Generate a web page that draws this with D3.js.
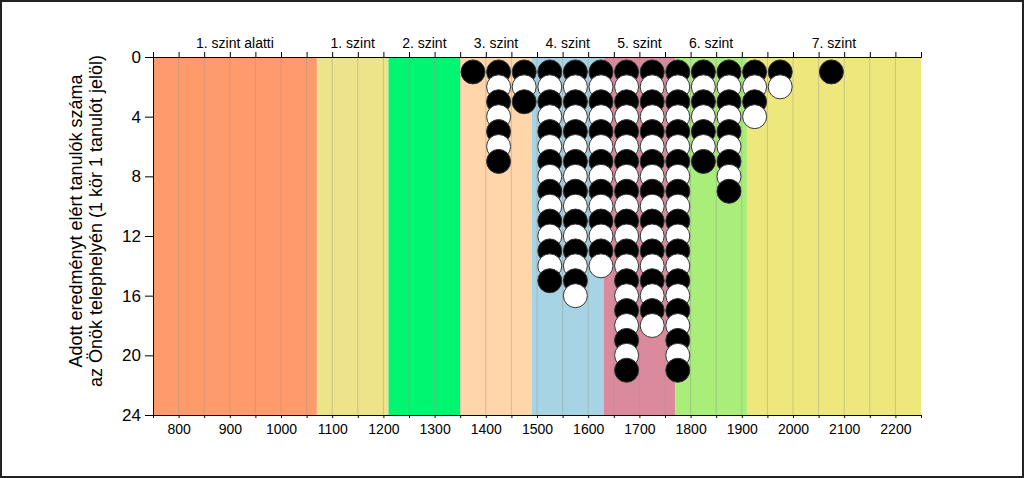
<!DOCTYPE html>
<html><head><meta charset="utf-8">
<script src="https://cdn.jsdelivr.net/npm/d3@7"></script>
<style>body{margin:0;background:#fff}svg{display:block;font-family:Arial,"Liberation Sans",sans-serif}</style>
</head><body>
<svg id="c" width="1024" height="478"></svg>
<script>
// Level bands
const bandNames = ["1. szint alatti","1. szint","2. szint","3. szint","4. szint","5. szint","6. szint","7. szint"];
const bandStarts = [750,1070,1210,1350,1490,1630,1770,1910];
const bandEnds   = [1070,1210,1350,1490,1630,1770,1910,2250];
const bandColors = ["#FF9A6A","#EDE388","#00F570","#FFD5AA","#A7D4E5","#DB8A9C","#A8EE78","#EEE87C"];
// Student counts per 50-point bin (bin centres)
const binCentres = [1375,1425,1475,1525,1575,1625,1675,1725,1775,1825,1875,1925,1975,2075];
const binCounts  = [1,7,3,15,16,14,21,18,21,7,9,4,2,1];
const yTicks = [0,4,8,12,16,20,24];
const xTicks = [800,900,1000,1100,1200,1300,1400,1500,1600,1700,1800,1900,2000,2100,2200];
const yTitle = ["Adott eredményt elért tanulók száma","az Önök telephelyén (1 kör 1 tanulót jelöl)"];

const svg = d3.select("#c");
const x = d3.scaleLinear().domain([750,2250]).range([153,921]);
const y = d3.scaleLinear().domain([0,24]).range([57,415]);

svg.append("rect").attr("x",1).attr("y",1).attr("width",1022).attr("height",476)
  .attr("fill","#fff").attr("stroke","#222").attr("stroke-width",2);

// bands
svg.append("g").selectAll("rect").data(bandNames).join("rect")
  .attr("x",(d,i)=>x(bandStarts[i])).attr("y",y(0))
  .attr("width",(d,i)=>x(bandEnds[i])-x(bandStarts[i])).attr("height",y(24)-y(0))
  .attr("fill",(d,i)=>bandColors[i]);

// grid lines
const grid = d3.range(800,2250,50);
svg.append("g").selectAll("line").data(grid).join("line")
  .attr("x1",d=>x(d)).attr("x2",d=>x(d)).attr("y1",y(0)).attr("y2",y(24))
  .attr("stroke","#9a9a9a").attr("stroke-opacity",0.45).attr("stroke-width",1);

// band labels
svg.append("g").selectAll("text").data(bandNames).join("text")
  .attr("x",(d,i)=>x((bandStarts[i]+bandEnds[i])/2)).attr("y",48)
  .attr("text-anchor","middle").attr("font-size",14).attr("fill","#000").text(d=>d);

// circles
const dots = [];
binCentres.forEach((c,i)=>{ for(let k=1;k<=binCounts[i];k++) dots.push({c,k}); });
svg.append("g").selectAll("circle").data(dots).join("circle")
  .attr("cx",d=>x(d.c)).attr("cy",d=>y(d.k)).attr("r",12)
  .attr("fill",d=>d.k%2===1?"#000":"#fff").attr("stroke","#333").attr("stroke-width",1);

// axes
const ticks50 = d3.range(750,2251,50);
const gTop = svg.append("g").attr("transform",`translate(0,${y(0)})`)
  .call(d3.axisTop(x).tickValues(ticks50).tickSize(5).tickFormat(""));
const gBot = svg.append("g").attr("transform",`translate(0,${y(24)})`)
  .call(d3.axisBottom(x).tickValues(ticks50).tickSize(3).tickFormat(d=>xTicks.includes(d)?d:""));
gBot.selectAll("text").attr("font-size",14).attr("font-family","Arial").attr("fill","#000").attr("dy","0.9em");
const gLeft = svg.append("g").attr("transform",`translate(${x(750)},0)`)
  .call(d3.axisLeft(y).tickValues(yTicks).tickSize(8).tickPadding(4));
gLeft.selectAll("text").attr("font-size",17).attr("font-family","Arial").attr("fill","#000");
[gTop,gBot,gLeft].forEach(g=>{g.select(".domain").attr("stroke","#000");g.selectAll("line").attr("stroke","#000");});

// y title
const tt = svg.append("text").attr("transform","translate(82,221) rotate(-90)")
  .attr("text-anchor","middle").attr("font-size",18).attr("fill","#000");
tt.selectAll("tspan").data(yTitle).join("tspan").attr("x",0).attr("dy",(d,i)=>i===0?0:20).text(d=>d);
</script>
</body></html>
